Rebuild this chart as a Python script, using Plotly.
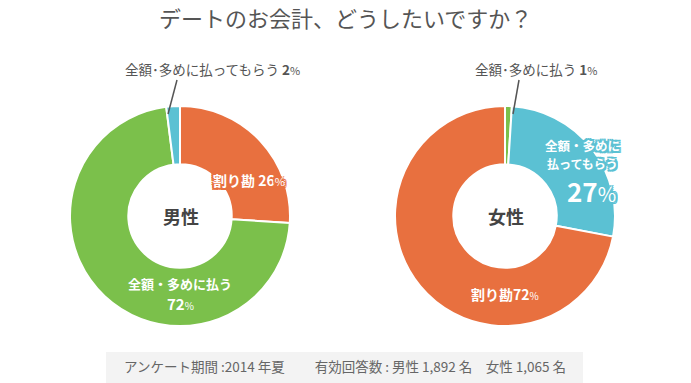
import plotly.graph_objects as go

W, H = 691, 383
FONT = "Noto Sans CJK JP"

title = "デートのお会計、どうしたいですか？"
male_labels = ["割り勘", "全額・多めに払う", "全額・多めに払ってもらう"]
male_values = [26, 72, 2]
female_labels = ["全額・多めに払う", "全額・多めに払ってもらう", "割り勘"]
female_values = [1, 27, 72]
color_map = {"割り勘": "#E8703F", "全額・多めに払う": "#7BC04B", "全額・多めに払ってもらう": "#5BC1D3"}
footer = "アンケート期間 :2014 年夏　　 有効回答数 : 男性 1,892 名　女性 1,065 名"


def px(x):
    return x / W


def py(y):
    return 1 - y / H


fig = go.Figure()
for labels, values, x0, x1, name in [
    (male_labels, male_values, 70, 290, "男性"),
    (female_labels, female_values, 395, 615, "女性"),
]:
    fig.add_trace(go.Pie(
        labels=labels, values=values, sort=False, direction="clockwise", rotation=0,
        hole=0.47, textinfo="none", hoverinfo="label+percent", name=name,
        marker=dict(colors=[color_map[l] for l in labels], line=dict(color="white", width=2)),
        domain=dict(x=[px(x0), px(x1)], y=[py(326), py(106)]),
        showlegend=False,
    ))

ann = []


def outline(c, w=2):
    parts = []
    for dx in (-w, 0, w):
        for dy in (-w, 0, w):
            if dx or dy:
                parts.append(f"{dx}px {dy}px 0 {c}")
    return ", ".join(parts)


def A(x, y, text, size=12, color="white", xanchor="center", shadow=None):
    f = dict(family=FONT, size=size, color=color)
    if shadow:
        f["shadow"] = shadow
    ann.append(dict(x=px(x), y=py(y), xref="paper", yref="paper", text=text, showarrow=False,
                    xanchor=xanchor, yanchor="middle", font=f))


def pct(sz):
    return f"<span style='font-size:{sz}px'>%</span>"


OR = outline("#E8703F", 2)
BL = outline("#5BC1D3", 2)
A(345, 17, title, size=22, color="#555555")
A(181, 216, "<b>男性</b>", size=18, color="#444444")
A(506, 216, "<b>女性</b>", size=18, color="#444444")
A(249, 180, "<b>割り勘 26</b>" + pct(11), size=14, shadow=OR)
A(180, 283, "<b>全額・多めに払う</b>", size=13)
A(180, 303, "<b>72</b>" + pct(10), size=15)
A(505, 294, "<b>割り勘72</b>" + pct(10), size=14)
A(582, 145, "<b>全額・多めに</b>", size=12.5, shadow=BL)
A(582, 163, "<b>払ってもらう</b>", size=12, shadow=BL)
A(591, 190, "<b>27</b>" + pct(20), size=26, shadow=BL)
A(123, 69, "全額･多めに払ってもらう <b>2</b>" + pct(11), size=13.5, color="#555555", xanchor="left")
A(473, 69, "全額･多めに払う <b>1</b>" + pct(11), size=13.5, color="#555555", xanchor="left")
A(345, 366, footer, size=13.5, color="#666666")

shapes = [
    dict(type="line", xref="paper", yref="paper", x0=px(177), y0=py(80), x1=px(168), y1=py(114),
         line=dict(color="#555555", width=1.5)),
    dict(type="line", xref="paper", yref="paper", x0=px(519), y0=py(80), x1=px(513), y1=py(114),
         line=dict(color="#555555", width=1.5)),
    dict(type="rect", xref="paper", yref="paper", x0=px(106), y0=py(383), x1=px(583), y1=py(352),
         fillcolor="#F3F3F3", line=dict(width=0), layer="below"),
]

fig.update_layout(
    width=W, height=H, margin=dict(l=0, r=0, t=0, b=0),
    paper_bgcolor="white", plot_bgcolor="white",
    annotations=ann, shapes=shapes,
    font=dict(family=FONT),
)
fig.write_html("out.html", config={"displayModeBar": False},
               post_script="document.body.style.margin='0';document.body.style.overflow='hidden';")
